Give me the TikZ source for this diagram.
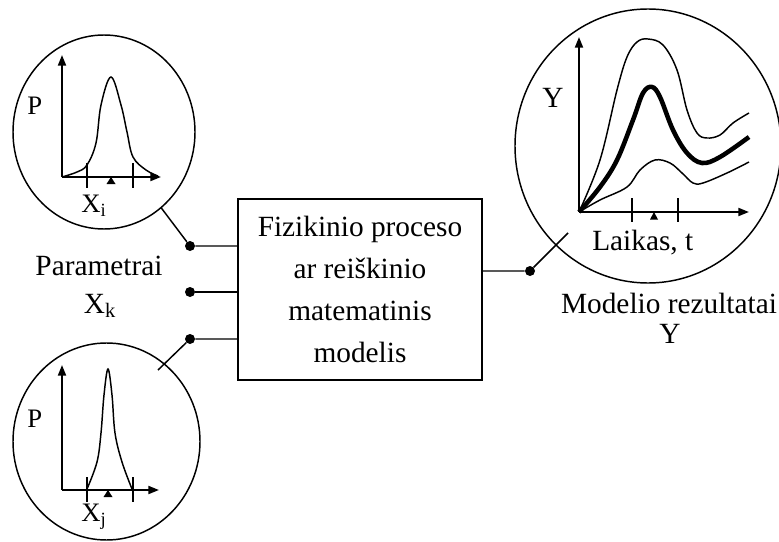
\documentclass[tikz,border=0pt]{standalone}
\usepackage{fontspec}
\setmainfont{Liberation Serif}
\usetikzlibrary{arrows.meta,shapes.geometric}

\begin{document}
\begin{tikzpicture}[x=0.75pt,y=-0.75pt,
    txt/.style={inner sep=0pt,font=\fontsize{22}{26}\selectfont},
    small/.style={inner sep=0pt,font=\fontsize{20}{24}\selectfont},
    axis/.style={line width=1.5pt,-{Triangle[length=8pt,width=6pt]}},
    wire/.style={line width=1.1pt},
    thin/.style={line width=1.1pt},
    dot/.style={circle,fill,inner sep=0pt,minimum size=7.5pt},
    lens/.style={ellipse,draw,line width=1.1pt,inner sep=0pt,outer sep=0pt}]
    \useasboundingbox (0,0) rectangle (779,542);

    % model block
    \node[draw,line width=1.4pt,minimum width=183pt,minimum height=135.75pt,
          align=center,font=\fontsize{22}{31.5}\selectfont] (model) at (360,289.5)
          {Fizikinio proceso\\ar reiškinio\\matematinis\\modelis};

    % lenses
    \node[lens,minimum width=136.5pt,minimum height=145.5pt] (pi) at (104,132) {};
    \node[lens,minimum width=140.25pt,minimum height=147.75pt] (pj) at (106.5,441.5) {};
    \node[lens,minimum width=199.5pt,minimum height=205.5pt] (res) at (648,146) {};

    % upper distribution
    \draw[axis] (62,177) -- (62,55);
    \draw[axis] (62,177) -- (161,177);
    \draw[thin] (87,163) -- (87,188) (133,163) -- (133,188);
    \fill (111,177) -- (106.5,184) -- (115.5,184) -- cycle;
    \draw[thin] plot[smooth,tension=0.6] coordinates {(62,177) (77,172) (87,165)
        (96,143) (101,105) (111,77) (121,105) (127,132) (133,157) (146,170) (158,176)};
    \node[small,anchor=base west] (p1) at (27,115) {P};
    \node[small,anchor=base west] (xi) at (81,212) {X\textsubscript{i}};

    % lower distribution
    \draw[axis] (62,490) -- (62,365);
    \draw[axis] (62,490) -- (159,490);
    \draw[thin] (87,477) -- (87,502) (133,477) -- (133,502);
    \fill (108,490) -- (103.5,497) -- (112.5,497) -- cycle;
    \draw[thin] plot[smooth,tension=0.6] coordinates {(87,489) (97,462) (101,433)
        (104,395) (108,369) (112,395) (115,433) (122,462) (132,489)};
    \node[small,anchor=base west] (p2) at (27,427) {P};
    \node[small,anchor=base west] (xj) at (81,521) {X\textsubscript{j}};

    % model output
    \draw[axis] (579,212) -- (579,37);
    \draw[axis] (579,212) -- (749,212);
    \draw[thin] (632,198) -- (632,222) (678,198) -- (678,222);
    \fill (654,212) -- (650,219.5) -- (658,219.5) -- cycle;
    \draw[thin] plot[smooth,tension=0.6] coordinates {(579,212) (600,160) (617,90)
        (627,57) (637,42) (648,39) (663,45) (677,70) (687,110) (697,133) (707,138)
        (720,135) (733,123) (749,113)};
    \draw[line width=3.4pt] plot[smooth,tension=0.6] coordinates {(579,212) (600,187)
        (617,160) (633,120) (643,93) (652,87) (660,97) (673,130) (687,153) (702,163)
        (720,157) (749,137)};
    \draw[thin] plot[smooth,tension=0.6] coordinates {(579,212) (600,200) (627,187)
        (640,170) (655,160) (670,163) (682,173) (693,183) (703,183) (727,173) (749,162)};
    \node[txt,anchor=base west] (ylab) at (542,108) {Y};
    \node[txt,anchor=base west] (tlab) at (592,250) {Laikas, t};

    % inputs and output
    \node[dot] (d1) at (190,246) {};
    \node[dot] (d2) at (190,292) {};
    \node[dot] (d3) at (190,339) {};
    \node[dot] (d4) at (530,271) {};
    \coordinate (t3) at (158,370);
    \coordinate (t4) at (568,233);
    \draw[wire] (pi) -- (d1) -- (d1 -| model.west);
    \draw[wire] (d2) -- (d2 -| model.west);
    \draw[wire] (t3) -- (d3) -- (d3 -| model.west);
    \draw[wire] (d4 -| model.east) -- (d4) -- (t4);

    \node[txt,anchor=base] (par) at (99,275) {Parametrai};
    \node[txt,anchor=base] (xk) at (100,313) {X\textsubscript{k}};
    \node[txt,anchor=base] (mr) at (669,313) {Modelio rezultatai};
    \node[txt,anchor=base] (yy) at (670,343) {Y};
\end{tikzpicture}
\end{document}
